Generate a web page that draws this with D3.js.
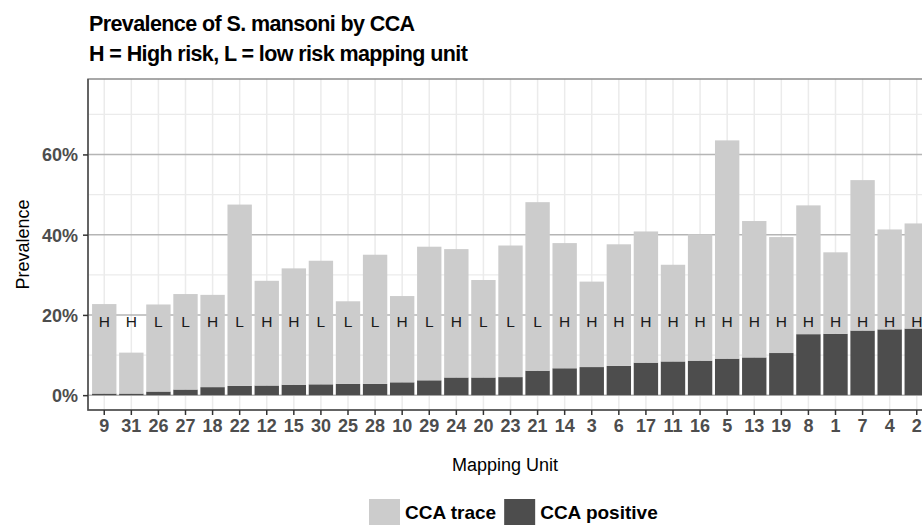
<!DOCTYPE html>
<html>
<head>
<meta charset="utf-8">
<script src="https://cdn.jsdelivr.net/npm/d3@7"></script>
<style>
  html, body { margin: 0; padding: 0; background: #fff; overflow: hidden; }
  svg { display: block; font-family: "Liberation Sans", Arial, sans-serif; }
</style>
</head>
<body>
<div id="container"></div>
<script>
// mapping units, in plotted order
let units = ["9","31","26","27","18","22","12","15","30","25","28","10","29","24","20","23","21","14","3","6","17","11","16","5","13","19","8","1","7","4","2"];
// H = high risk, L = low risk
let risk = ["H","H","L","L","H","L","H","H","L","L","L","H","L","H","L","L","L","H","H","H","H","H","H","H","H","H","H","H","H","H","H"];
// prevalence (%) per series
let positive = [0.4,0.4,0.9,1.4,2.0,2.3,2.4,2.6,2.7,2.8,2.8,3.2,3.7,4.4,4.4,4.5,6.1,6.7,7.0,7.3,8.1,8.4,8.6,9.1,9.4,10.5,15.2,15.3,16.1,16.4,16.6];
let trace = [22.3,10.2,21.7,23.8,23.0,45.2,26.1,29.0,30.8,20.6,32.2,21.5,33.3,32.0,24.3,32.8,42.0,31.2,21.3,30.3,32.7,24.1,31.5,54.4,34.0,28.9,32.1,20.3,37.5,24.9,26.2];
let yTicks = [0, 0.2, 0.4, 0.6];
let yMinor = [0.1, 0.3, 0.5, 0.7];

let series = [
  {key: "positive", label: "CCA positive", color: "#4d4d4d"},
  {key: "trace", label: "CCA trace", color: "#cccccc"}
];

let width = 922, height = 525;
let panel = {left: 88, top: 79, right: 933, bottom: 410};

let rows = units.map(function(u, i) {
  return {unit: u, risk: risk[i], positive: positive[i] / 100, trace: trace[i] / 100};
});

let svg = d3.select("#container")
  .append("svg")
  .attr("width", width)
  .attr("height", height);

let x = d3.scaleBand()
  .domain(units)
  .range([panel.left, panel.right])
  .paddingInner(0.1)
  .paddingOuter(0.15);

let y = d3.scaleLinear()
  .domain([-0.037, 0.788])
  .range([panel.bottom, panel.top]);

// title
let title = svg.append("g")
  .attr("font-weight", "bold")
  .attr("font-size", "21.5px")
  .attr("letter-spacing", "-0.6px")
  .attr("fill", "#000");
title.append("text").attr("x", 89).attr("y", 31).text("Prevalence of S. mansoni by CCA");
title.append("text").attr("x", 89).attr("y", 61).text("H = High risk, L = low risk mapping unit");

// panel background + grid
svg.append("rect")
  .attr("x", panel.left).attr("y", panel.top)
  .attr("width", panel.right - panel.left).attr("height", panel.bottom - panel.top)
  .attr("fill", "#fff");

let grid = svg.append("g");
grid.selectAll(".minor")
  .data(yMinor)
  .enter().append("line")
  .attr("x1", panel.left).attr("x2", panel.right)
  .attr("y1", d => y(d)).attr("y2", d => y(d))
  .attr("stroke", "#ebebeb").attr("stroke-width", 1.2);
grid.selectAll(".vert")
  .data(units)
  .enter().append("line")
  .attr("x1", d => x(d) + x.bandwidth() / 2).attr("x2", d => x(d) + x.bandwidth() / 2)
  .attr("y1", panel.top).attr("y2", panel.bottom)
  .attr("stroke", "#ebebeb").attr("stroke-width", 1.5);
grid.selectAll(".major")
  .data(yTicks)
  .enter().append("line")
  .attr("x1", panel.left).attr("x2", panel.right)
  .attr("y1", d => y(d)).attr("y2", d => y(d))
  .attr("stroke", "#b5b5b5").attr("stroke-width", 1.5);

// stacked bars
let stacked = d3.stack().keys(series.map(s => s.key))(rows);

svg.append("g")
  .selectAll("g")
  .data(stacked)
  .enter().append("g")
  .attr("fill", (d, i) => series[i].color)
  .selectAll("rect")
  .data(d => d)
  .enter().append("rect")
  .attr("x", d => x(d.data.unit))
  .attr("width", x.bandwidth())
  .attr("y", d => y(d[1]))
  .attr("height", d => y(d[0]) - y(d[1]));

// H / L labels
svg.append("g")
  .selectAll("text")
  .data(rows)
  .enter().append("text")
  .attr("x", d => x(d.unit) + x.bandwidth() / 2)
  .attr("y", y(0.17))
  .attr("text-anchor", "middle")
  .attr("font-size", "15.5px")
  .attr("fill", "#1a1a1a")
  .text(d => d.risk);

// panel border
svg.append("rect")
  .attr("x", panel.left).attr("y", panel.top)
  .attr("width", panel.right - panel.left).attr("height", panel.bottom - panel.top)
  .attr("fill", "none").attr("stroke", "#8c8c8c").attr("stroke-width", 1.5);
svg.append("path")
  .attr("d", "M" + panel.left + "," + panel.top + "V" + panel.bottom + "H" + panel.right)
  .attr("fill", "none").attr("stroke", "#4d4d4d").attr("stroke-width", 1.5);

// axes
let yAxis = svg.append("g")
  .attr("transform", "translate(" + panel.left + ",0)")
  .call(d3.axisLeft(y).tickValues(yTicks).tickFormat(d3.format(".0%")).tickSize(5).tickPadding(5));
let xAxis = svg.append("g")
  .attr("transform", "translate(0," + panel.bottom + ")")
  .call(d3.axisBottom(x).tickSize(5).tickPadding(4));

[yAxis, xAxis].forEach(function(a) {
  a.select(".domain").remove();
  a.selectAll(".tick line").attr("stroke", "#333").attr("stroke-width", 1.5);
  a.selectAll(".tick text")
    .attr("fill", "#4d4d4d")
    .attr("font-size", "18px")
    .attr("font-weight", "bold")
    .attr("font-family", "Liberation Sans, Arial, sans-serif");
});
yAxis.selectAll(".tick text").attr("dy", "0.36em");
xAxis.selectAll(".tick text").attr("dy", "0.71em");

// axis titles
svg.append("text")
  .attr("transform", "translate(29," + ((panel.top + panel.bottom) / 2) + ") rotate(-90)")
  .attr("text-anchor", "middle")
  .attr("font-size", "18px")
  .text("Prevalence");
svg.append("text")
  .attr("x", 505).attr("y", 471)
  .attr("text-anchor", "middle")
  .attr("font-size", "18px")
  .text("Mapping Unit");

// legend
let legendItems = [series[1], series[0]];
let legend = svg.append("g").attr("transform", "translate(369,499)");
let lx = 0;
legendItems.forEach(function(s) {
  let item = legend.append("g").attr("transform", "translate(" + lx + ",0)");
  item.append("rect").attr("width", 31).attr("height", 26).attr("fill", s.color);
  let t = item.append("text")
    .attr("x", 36).attr("y", 519)
    .attr("y", 20)
    .attr("font-size", "19px").attr("font-weight", "bold")
    .text(s.label);
  lx += 36 + t.node().getComputedTextLength() + 8;
});
</script>
</body>
</html>
